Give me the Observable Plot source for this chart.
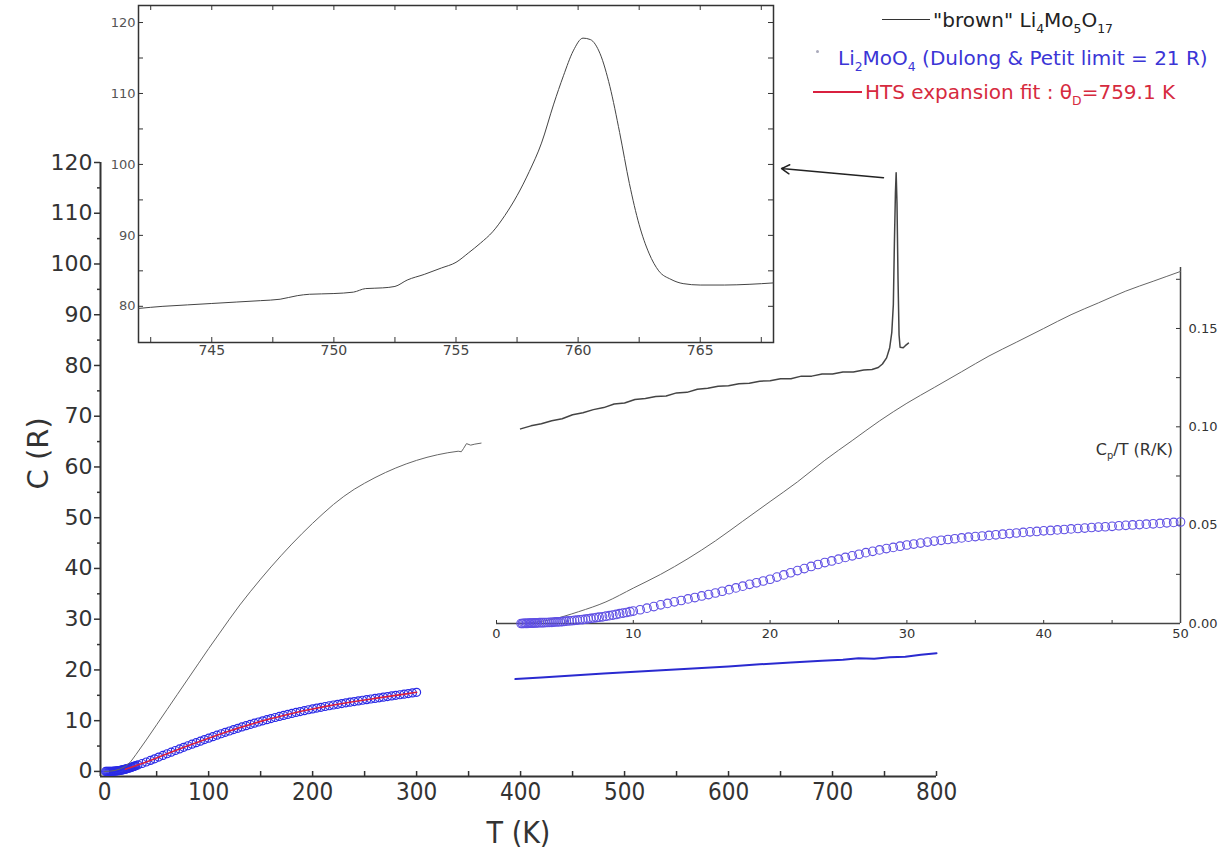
<!DOCTYPE html>
<html><head><meta charset="utf-8">
<script src="https://cdn.jsdelivr.net/npm/d3@7"></script>
<script src="https://cdn.jsdelivr.net/npm/@observablehq/plot@0.6"></script>
<style>
body{margin:0;background:#fff;}
#wrap{position:relative;width:1228px;height:854px;overflow:hidden;font-family:"DejaVu Sans",Verdana,sans-serif;}
#wrap svg{position:absolute;}
.lg{position:absolute;white-space:nowrap;font-size:20px;line-height:20px;}
.lg sub{font-size:62%;vertical-align:-0.45em;line-height:0;}
.smp{position:absolute;height:0;}
</style></head><body><div id="wrap"></div>
<script>
// ---------- main plot data ----------
const brownT1 = [0,5,10,15,20,25,30,40,50,60,70,80,90,100,110,120,130,140,150,160,170,180,190,200,210,220,230,240,250,260,270,280,290,300,310,320,330,340,343,345,348,352,356,362];
const brownC1 = [0,0.05,0.2,0.5,1.0,1.9,3.3,6.2,9.2,12.2,15.2,18.2,21.2,24.2,27.1,30.0,32.8,35.4,37.9,40.3,42.6,44.8,46.9,48.9,50.8,52.6,54.2,55.6,56.8,57.9,58.9,59.8,60.6,61.3,61.9,62.4,62.8,63.1,63.0,63.6,64.6,64.3,64.5,64.7];
const brownT2 = [400,410,420,430,440,450,460,470,480,490,500,510,520,530,540,550,560,570,580,590,600,610,620,630,640,650,660,670,680,690,700,710,720,730,738,744,748,752,755,757,758.5,759.5,760.5,761.2,762,763,764,765,768,770,773];
const brownC2 = [67.5,68.1,68.5,69.1,69.5,70.3,70.7,71.3,71.7,72.4,72.6,73.3,73.5,73.9,74.0,74.6,74.7,75.3,75.5,75.9,76.0,76.4,76.5,76.9,77.0,77.4,77.4,77.9,77.9,78.3,78.3,78.7,78.7,79.1,79.2,79.6,80.3,81.5,83.5,86.5,92,104,114,118,112,97,86,83.6,83.5,83.9,84.4];
const blueT = [1,2,3,4,5,6,7,8,9,10,11,12,13,14,15,16,17,18,19,20,21,22,23,24,25,26,27,28,29,30,32,36,40,44,48,52,56,60,64,68,72,76,80,84,88,92,96,100,104,108,112,116,120,124,128,132,136,140,144,148,152,156,160,164,168,172,176,180,184,188,192,196,200,204,208,212,216,220,224,228,232,236,240,244,248,252,256,260,264,268,272,276,280,284,288,292,296,300];
const blueC = [0,0,0,0,0.01,0.01,0.02,0.03,0.04,0.06,0.08,0.11,0.14,0.17,0.21,0.25,0.29,0.34,0.39,0.45,0.51,0.57,0.63,0.70,0.77,0.84,0.91,0.98,1.06,1.14,1.28,1.56,1.86,2.17,2.49,2.82,3.15,3.48,3.80,4.12,4.44,4.75,5.06,5.37,5.67,5.97,6.27,6.56,6.85,7.14,7.42,7.70,7.97,8.24,8.50,8.76,9.01,9.26,9.50,9.74,9.97,10.20,10.42,10.63,10.84,11.04,11.24,11.43,11.62,11.80,11.98,12.15,12.32,12.48,12.64,12.79,12.94,13.09,13.23,13.37,13.51,13.64,13.77,13.90,14.03,14.15,14.27,14.39,14.51,14.63,14.75,14.87,14.99,15.11,15.23,15.35,15.47,15.59];
const fitT = [20,30,40,50,60,70,80,90,100,110,120,130,140,150,160,170,180,190,200,210,220,230,240,250,260,270,280,290,300];
const fitC = [0.45,1.14,1.86,2.65,3.48,4.28,5.06,5.82,6.56,7.28,7.97,8.63,9.26,9.86,10.42,10.94,11.43,11.89,12.32,12.72,13.09,13.44,13.77,14.09,14.39,14.69,14.99,15.29,15.59];
const blueHT = [395,420,450,480,510,540,570,600,630,660,690,710,725,740,755,770,785,800];
const blueHC = [18.2,18.5,18.9,19.3,19.65,20.0,20.35,20.7,21.1,21.45,21.8,22.0,22.3,22.2,22.5,22.6,23.0,23.3];
const mainYTicks = [0,10,20,30,40,50,60,70,80,90,100,110,120];
const mainYMinor = [5,15,25,35,45,55,65,75,85,95,105,115];
const mainXTicks = [0,100,200,300,400,500,600,700,800];
const mainXMinor = [50,100,150,200,250,300,350,400,450,500,550,600,650,700,750,800];
const arrowPts = [{x1: 749, y1: 117.0, x2: 651, y2: 118.8}];

// ---------- inset 1 (peak) ----------
const pkT = [742.0,743.0,744.0,745.0,746.0,747.0,747.8,748.5,749.0,750.0,750.8,751.3,752.0,752.5,753.0,753.7,754.4,755.0,755.5,756.0,756.5,757.0,757.5,758.0,758.5,759.0,759.4,759.8,760.2,760.5,760.9,761.3,761.7,762.1,762.5,762.9,763.3,763.8,764.3,765.0,766.0,767.0,768.0];
const pkC = [79.7,80.0,80.2,80.4,80.6,80.8,81.0,81.5,81.7,81.8,82.0,82.5,82.6,82.8,83.7,84.5,85.4,86.2,87.5,88.9,90.5,92.8,95.6,99.0,103.0,108.5,112.5,116.0,117.8,117.6,115.6,111.0,104.5,97.3,91.5,87.5,85.0,83.8,83.2,83.0,83.0,83.1,83.3];
const pkYLabels = [80,90,100,110,120];
const pkYTicks = [80,85,90,95,100,105,110,115,120];
const pkXLabels = [745,750,755,760,765];
const pkXTicks = [742.5,745,747.5,750,752.5,755,757.5,760,762.5,765,767.5];

// ---------- inset 2 (Cp/T) ----------
const ctBrownT = [2,4,6,8,10,12,14,16,18,20,22,24,26,28,30,32,34,36,38,40,42,44,46,48,50];
const ctBrownY = [0.000,0.002,0.006,0.011,0.018,0.025,0.033,0.042,0.052,0.062,0.072,0.083,0.093,0.103,0.112,0.120,0.128,0.136,0.143,0.150,0.157,0.163,0.169,0.174,0.179];
const ctBlueT = [1.8,1.9,2.0,2.1,2.2,2.3,2.4,2.5,2.6,2.7,2.8,2.9,3.0,3.15,3.3,3.45,3.6,3.75,3.9,4.05,4.2,4.35,4.5,4.65,4.8,4.95,5.1,5.3,5.5,5.7,5.9,6.1,6.3,6.5,6.7,6.9,7.1,7.3,7.5,7.75,8.0,8.25,8.5,8.75,9.0,9.25,9.5,9.75,10.0,10.5,11.0,11.5,12.0,12.5,13.0,13.5,14.0,14.5,15.0,15.5,16.0,16.5,17.0,17.5,18.0,18.5,19.0,19.5,20.0,20.5,21.0,21.5,22.0,22.5,23.0,23.5,24.0,24.5,25.0,25.5,26.0,26.5,27.0,27.5,28.0,28.5,29.0,29.5,30.0,30.5,31.0,31.5,32.0,32.5,33.0,33.5,34.0,34.5,35.0,35.5,36.0,36.5,37.0,37.5,38.0,38.5,39.0,39.5,40.0,40.5,41.0,41.5,42.0,42.5,43.0,43.5,44.0,44.5,45.0,45.5,46.0,46.5,47.0,47.5,48.0,48.5,49.0,49.5,50.0];
const ctBlueY = [0.0000,0.0000,0.0001,0.0001,0.0001,0.0001,0.0002,0.0002,0.0002,0.0002,0.0003,0.0003,0.0003,0.0004,0.0004,0.0004,0.0005,0.0005,0.0006,0.0006,0.0007,0.0008,0.0008,0.0009,0.0010,0.0011,0.0012,0.0013,0.0014,0.0016,0.0017,0.0019,0.0020,0.0022,0.0024,0.0026,0.0028,0.0030,0.0032,0.0034,0.0037,0.0040,0.0043,0.0046,0.0050,0.0053,0.0056,0.0060,0.0063,0.0070,0.0078,0.0086,0.0095,0.0102,0.0110,0.0117,0.0125,0.0132,0.0140,0.0147,0.0155,0.0164,0.0172,0.0181,0.0190,0.0199,0.0207,0.0216,0.0225,0.0236,0.0247,0.0258,0.0269,0.0279,0.0290,0.0300,0.0310,0.0318,0.0327,0.0336,0.0344,0.0352,0.0360,0.0367,0.0374,0.0381,0.0387,0.0393,0.0399,0.0404,0.0409,0.0414,0.0419,0.0423,0.0427,0.0431,0.0435,0.0439,0.0442,0.0445,0.0448,0.0451,0.0454,0.0457,0.0460,0.0463,0.0466,0.0468,0.0471,0.0473,0.0476,0.0478,0.0481,0.0483,0.0485,0.0488,0.0490,0.0492,0.0494,0.0497,0.0499,0.0501,0.0503,0.0505,0.0507,0.0509,0.0512,0.0514,0.0516];
const ctXLabels = [0,10,20,30,40,50];
const ctXTicks = [0,5,10,15,20,25,30,35,40,45,50];
const ctYLabels = [0,0.05,0.10,0.15];
const ctYTicks = [0,0.025,0.05,0.075,0.10,0.125,0.15,0.175];

const zip = (xs, ys) => xs.map((x, i) => ({x, y: ys[i]}));
const AX = "#333";
const FONT = "DejaVu Sans, Verdana, sans-serif";
const CFONT = "DejaVu Sans Condensed, Liberation Sans Narrow, DejaVu Sans, sans-serif";
const wrap = document.getElementById("wrap");

// ---------- main ----------
const mainH = 854 - 162 - 78;
const main = Plot.plot({
  width: 1228, height: 854,
  marginLeft: 100, marginRight: 292, marginTop: 162, marginBottom: 78,
  x: {domain: [-4, 800]},
  y: {domain: [-1, 120]},
  style: {background: "transparent", fontFamily: FONT, color: AX, overflow: "visible"},
  marks: [
    Plot.axisY({ticks: mainYTicks, tickSize: 6, tickPadding: 2, fontSize: 22, color: AX, strokeWidth: 1.5, label: null}),
    Plot.axisY({ticks: mainYMinor, tickSize: 3, tickFormat: () => "", color: AX, strokeWidth: 1.5, label: null}),
    Plot.axisX({ticks: mainXTicks, tickSize: 0, tickPadding: 6, fontSize: 24, fontFamily: CFONT, color: AX, label: null}),
    Plot.tickX(mainXMinor, {x: d => d, insetTop: mainH - 5, stroke: AX, strokeWidth: 1.5}),
    Plot.ruleX([-4], {stroke: AX, strokeWidth: 2}),
    Plot.ruleY([-1], {stroke: AX, strokeWidth: 2}),
    Plot.dot(zip(blueT, blueC), {x: "x", y: "y", r: 4, stroke: "#2a2ae6", strokeWidth: 1.2, fill: "none"}),
    Plot.line(zip(fitT, fitC), {x: "x", y: "y", stroke: "#d9203f", strokeWidth: 1.6, curve: "monotone-x"}),
    Plot.line(zip(brownT1, brownC1), {x: "x", y: "y", stroke: "#666", strokeWidth: 1}),
    Plot.line(zip(brownT2, brownC2), {x: "x", y: "y", stroke: "#444", strokeWidth: 1.5}),
    Plot.line(zip(blueHT, blueHC), {x: "x", y: "y", stroke: "#2a2ad0", strokeWidth: 2}),
    Plot.arrow(arrowPts, {x1: "x1", y1: "y1", x2: "x2", y2: "y2", stroke: "#222", strokeWidth: 1.5, headLength: 9, bend: 0}),
    Plot.text(["C (R)"], {frameAnchor: "left", dx: -62, dy: 20, rotate: -90, fontSize: 29, fill: AX}),
    Plot.text(["T (K)"], {frameAnchor: "bottom", dy: 66, fontSize: 30, fontFamily: CFONT, fill: AX})
  ]
});
main.style.left = "0px"; main.style.top = "0px";
wrap.appendChild(main);

// ---------- inset 1 ----------
const i1W = 773 - 138, i1H = 342 - 5;
const ins1 = Plot.plot({
  width: 700, height: 370,
  marginLeft: 38, marginRight: 27, marginTop: 5, marginBottom: 28,
  x: {domain: [742, 768]},
  y: {domain: [74.9, 122.4]},
  style: {background: "transparent", fontFamily: FONT, overflow: "visible"},
  marks: [
    Plot.frame({fill: "white", stroke: AX, strokeWidth: 1.5}),
    Plot.tickY(pkYTicks, {y: d => d, insetRight: i1W - 5, stroke: AX}),
    Plot.tickY(pkYTicks, {y: d => d, insetLeft: i1W - 5, stroke: AX}),
    Plot.tickX(pkXTicks, {x: d => d, insetBottom: i1H - 5, stroke: AX}),
    Plot.tickX(pkXTicks, {x: d => d, insetTop: i1H - 5, stroke: AX}),
    Plot.axisY({ticks: pkYLabels, tickSize: 0, tickPadding: 3, fontSize: 13, color: "#555", label: null}),
    Plot.axisX({ticks: pkXLabels, tickSize: 0, tickPadding: 3, fontSize: 14, color: "#444", label: null}),
    Plot.line(zip(pkT, pkC), {x: "x", y: "y", stroke: "#444", strokeWidth: 1, curve: "monotone-x"})
  ]
});
ins1.style.left = "100px"; ins1.style.top = "0px";
wrap.appendChild(ins1);

// ---------- inset 2 ----------
const i2W = 1180 - 496, i2H = 623 - 267;
const ins2 = Plot.plot({
  width: 758, height: 410,
  marginLeft: 26, marginRight: 48, marginTop: 17, marginBottom: 37,
  x: {domain: [0, 50]},
  y: {domain: [0, 0.181]},
  style: {background: "transparent", fontFamily: FONT, overflow: "visible"},
  marks: [
    Plot.tickX(ctXTicks, {x: d => d, insetTop: i2H - 3, stroke: AX}),
    Plot.tickY(ctYTicks, {y: d => d, insetLeft: i2W - 4, stroke: AX}),
    Plot.axisX({ticks: ctXLabels, tickSize: 0, tickPadding: 5, fontSize: 13, color: AX, label: null}),
    Plot.axisY({anchor: "right", ticks: ctYLabels, tickFormat: d3.format(".2f"), tickSize: 0, tickPadding: 8, fontSize: 13, color: AX, label: null}),
    Plot.ruleY([0], {stroke: "#444", strokeWidth: 1.5}),
    Plot.ruleX([50], {stroke: "#444", strokeWidth: 1.5}),
    Plot.line(zip(ctBrownT, ctBrownY), {x: "x", y: "y", stroke: "#666", strokeWidth: 1, curve: "monotone-x"}),
    Plot.dot(zip(ctBlueT, ctBlueY), {x: "x", y: "y", r: 4.3, stroke: "#6050e4", strokeWidth: 1.1, fill: "none"})
  ]
});
ins2.style.left = "470px"; ins2.style.top = "250px";
wrap.appendChild(ins2);

// ---------- texts & legend ----------
function addDiv(html, css, cls) {
  const d = document.createElement("div");
  d.className = cls || "lg";
  d.innerHTML = html;
  Object.assign(d.style, css);
  wrap.appendChild(d);
  return d;
}
addDiv("C<sub>p</sub>/T (R/K)", {right: (1228 - 1173) + "px", top: "442px", fontSize: "16px", color: "#333", lineHeight: "16px"});
addDiv("", {left: "882px", top: "19px", width: "48px", borderTop: "1px solid #333"}, "smp");
addDiv('"brown" Li<sub>4</sub>Mo<sub>5</sub>O<sub>17</sub>', {left: "933px", top: "10px", color: "#222"});
addDiv("", {left: "816px", top: "50px", width: "3px", height: "3px", borderRadius: "50%", background: "#aab"}, "smp");
addDiv("Li<sub>2</sub>MoO<sub>4</sub> (Dulong &amp; Petit limit = 21 R)", {left: "838px", top: "48px", color: "#3b35d6"});
addDiv("", {left: "813px", top: "91px", width: "49px", borderTop: "2px solid #d9203f"}, "smp");
addDiv("HTS expansion fit : θ<sub>D</sub>=759.1 K", {left: "865px", top: "82px", color: "#d62a3e"});
</script>
</body></html>
